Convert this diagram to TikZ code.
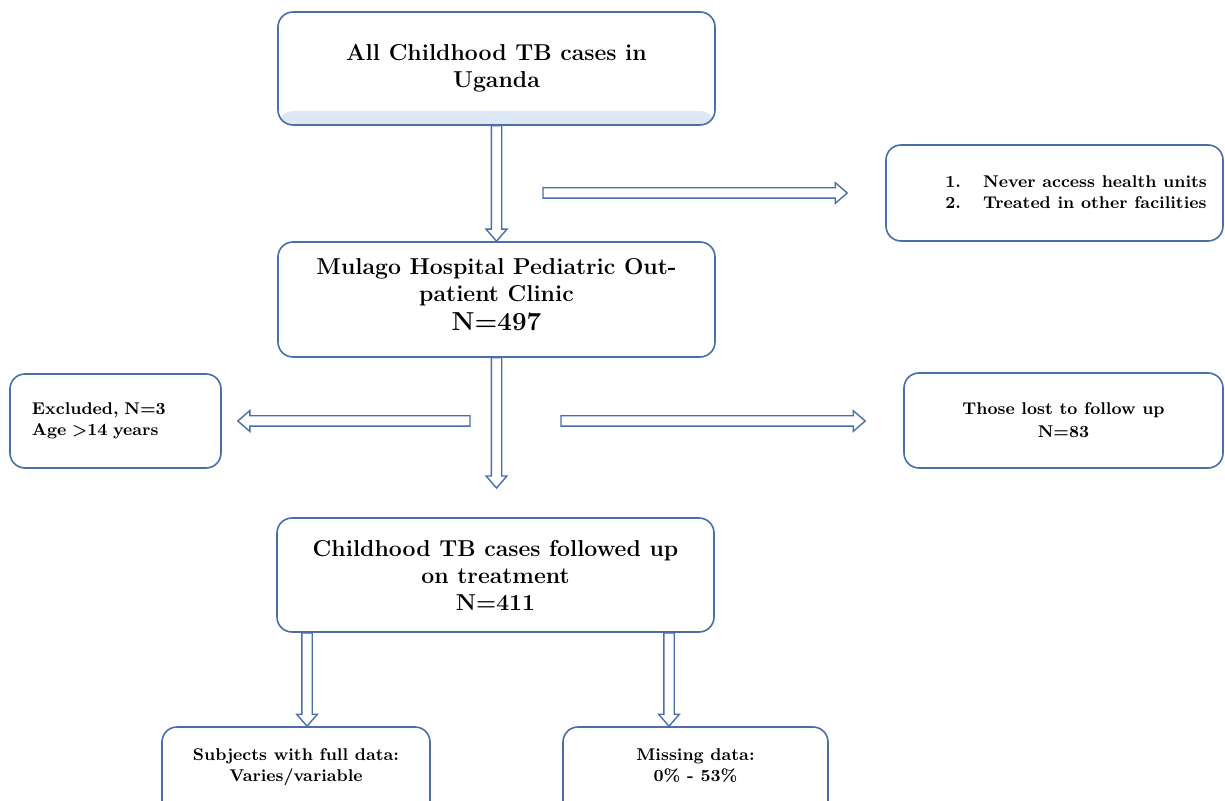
\documentclass[tikz,border=0pt]{standalone}
\usepackage{tikz}
\usetikzlibrary{positioning,calc}
\definecolor{boxline}{HTML}{4A6EA9}
\definecolor{boxtint}{HTML}{DCE6F5}

\begin{document}
\begin{tikzpicture}[x=0.5pt,y=-0.5pt,
		box/.style={draw=boxline, line width=0.8pt, rounded corners=7.5pt, fill=white, align=center, inner sep=0pt},
		bigtext/.style={font=\bfseries\fontsize{11.5}{13.5}\selectfont},
		smalltext/.style={font=\bfseries\fontsize{8.5}{10.5}\selectfont},
		hollow/.style={draw=boxline, line width=0.7pt, fill=white, line join=miter,
			to path={
				($(\tikztostart)!2.6pt!90:(\tikztotarget)$)
				-- ($($(\tikztotarget)!6pt!(\tikztostart)$)!2.6pt!90:(\tikztotarget)$)
				-- ($($(\tikztotarget)!6pt!(\tikztostart)$)!5.2pt!90:(\tikztotarget)$)
				-- (\tikztotarget)
				-- ($($(\tikztotarget)!6pt!(\tikztostart)$)!5.2pt!-90:(\tikztotarget)$)
				-- ($($(\tikztotarget)!6pt!(\tikztostart)$)!2.6pt!-90:(\tikztotarget)$)
				-- ($(\tikztostart)!2.6pt!-90:(\tikztotarget)$) -- cycle}}]
	\useasboundingbox (0,0) rectangle (1225,801);
	\clip (0,0) rectangle (1225,801);

	% boxes of the main column
	\node[box, bigtext, minimum width=218.5pt, minimum height=56.5pt,
		path picture={\shade[top color=white, bottom color=boxtint]
			([yshift=7pt]path picture bounding box.south west) rectangle (path picture bounding box.south east);}]
		(all) at (496.5,68.5) {All Childhood TB cases in\\Uganda};
	\node[box, bigtext, minimum width=218.5pt, minimum height=57.5pt]
		(mulago) at (496.5,299.5) {Mulago Hospital Pediatric Out-\\patient Clinic\\[1pt]{\fontsize{13}{15}\selectfont N=497}\\[-8pt]};
	\node[box, bigtext, minimum width=218.5pt, minimum height=57pt]
		(followed) at (495.5,575) {Childhood TB cases followed up\\on treatment\\N=411};

	% side boxes
	\node[box, minimum width=168.5pt, minimum height=48pt] (notseen) at (1054.5,193) {};
	\node[smalltext, anchor=west, align=left, inner sep=0pt] (notseenlist) at (945,194)
		{\begin{tabular}{@{}l@{\hspace{11pt}}l@{}}1. & Never access health units\\2. & Treated in other facilities\end{tabular}};
	\node[box, smalltext, minimum height=47pt, text width=83.5pt, inner xsep=11pt, align=left]
		(excluded) at (115.5,421) {Excluded, N=3\\Age >14 years};
	\node[box, smalltext, minimum width=159.5pt, minimum height=47.5pt, font=\bfseries\fontsize{8.5}{11.5}\selectfont]
		(lost) at (1063.5,420.5) {Those lost to follow up\\N=83};

	% bottom boxes, cut by the page edge
	\node[box, smalltext, minimum width=134pt, minimum height=51.5pt] (full) at (296,778.5) {Subjects with full data:\\Varies/variable\\[3pt]};
	\node[box, smalltext, minimum width=132.5pt, minimum height=51.5pt] (missing) at (695.5,778.5) {Missing data:\\0\% - 53\%\\[3pt]};

	% free ends of the arrows
	\coordinate (topgo) at (543,193);
	\coordinate (topend) at ([xshift=-19pt]notseen.west);
	\coordinate (midgo) at (495,488);
	\coordinate (leftgo) at (470,421);
	\coordinate (leftend) at ([xshift=8pt]excluded.east);
	\coordinate (rightgo) at (561,421);
	\coordinate (rightend) at ([xshift=-19pt]lost.west);
	\coordinate (colA) at (307,0);
	\coordinate (colB) at (669,0);

	% arrows
	\path[hollow] (all.south) to (mulago.north);
	\path[hollow] (topgo) to (topend);
	\path[hollow] (mulago.south) to (mulago.south |- midgo);
	\path[hollow] (leftgo) to (leftend);
	\path[hollow] (rightgo) to (rightgo -| rightend);
	\path[hollow] (followed.south -| colA) to (full.north -| colA);
	\path[hollow] (followed.south -| colB) to (missing.north -| colB);
\end{tikzpicture}
\end{document}
